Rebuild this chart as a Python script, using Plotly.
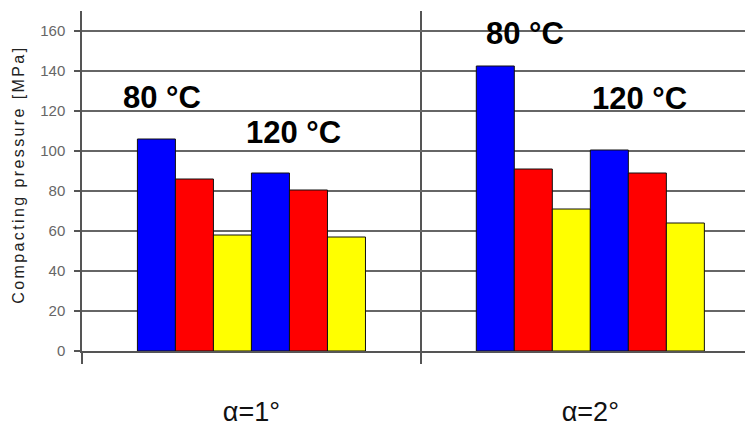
import plotly.graph_objects as go

categories = ["α=1°", "α=2°"]
# three series (blue, red, yellow) at two temperatures
temps = ["80 °C", "120 °C"]
blue_80 = [106, 142.5]
red_80 = [86, 91]
yellow_80 = [58, 71]
blue_120 = [89, 100.5]
red_120 = [80.5, 89]
yellow_120 = [57, 64]
y_ticks = [0, 20, 40, 60, 80, 100, 120, 140, 160]

series = [
    ("Series 1, 80 °C", blue_80, "#0000FF"),
    ("Series 2, 80 °C", red_80, "#FF0000"),
    ("Series 3, 80 °C", yellow_80, "#FFFF00"),
    ("Series 1, 120 °C", blue_120, "#0000FF"),
    ("Series 2, 120 °C", red_120, "#FF0000"),
    ("Series 3, 120 °C", yellow_120, "#FFFF00"),
]

fig = go.Figure()
for name, vals, col in series:
    fig.add_trace(go.Bar(x=categories, y=vals, name=name,
                         marker=dict(color=col, line=dict(color="#111111", width=1))))

axis_col = "#555555"
# page body has an 8px margin, so the figure is sized to end at the window edge
fig.update_layout(
    width=745, height=421,
    margin=dict(l=74, r=0, t=3, b=78, autoexpand=False),
    paper_bgcolor="white", plot_bgcolor="white",
    barmode="group", bargap=0.327, bargroupgap=0,
    showlegend=False,
    font=dict(family="Liberation Sans, Arial, sans-serif"),
)
fig.update_xaxes(
    range=[-0.5, 1.48], type="category", automargin=False,
    tickson="boundaries", ticks="outside", ticklen=11, tickwidth=1.5, tickcolor=axis_col,
    showgrid=True, gridcolor=axis_col, gridwidth=1.5,
    showline=True, linecolor=axis_col, linewidth=1.5,
    tickfont=dict(size=27, color="#111111", family="Liberation Sans, Arial, sans-serif"),
    ticklabelstandoff=36,
)
fig.update_yaxes(
    range=[0, 170], tickvals=y_ticks, automargin=False,
    ticks="outside", ticklen=6, tickwidth=1.5, tickcolor=axis_col,
    showgrid=True, gridcolor="#666666", gridwidth=1.5,
    showline=True, linecolor=axis_col, linewidth=1.5,
    zeroline=False,
    tickfont=dict(size=15, color="#666666"),
    ticklabelstandoff=6,
)

label_font = dict(family="Liberation Sans, Arial, sans-serif",
                  size=31, color="black", weight="bold")
label_pos = [(-0.264, 127, temps[0]), (0.125, 109.5, temps[1]),
             (0.807, 159, temps[0]), (1.146, 126.5, temps[1])]
for x, y, t in label_pos:
    fig.add_annotation(x=x, y=y, xref="x", yref="y", text=t, showarrow=False,
                       font=label_font, xanchor="center", yanchor="middle")

fig.add_annotation(
    xref="paper", yref="paper", x=-0.094, y=0.518,
    text='<span style="letter-spacing:2.4px">Compacting pressure [MPa]</span>',
    textangle=-90, showarrow=False, xanchor="center", yanchor="middle",
    font=dict(size=16, color="#222222", family="Liberation Sans, Arial, sans-serif"),
)

fig.write_html("out.html")
